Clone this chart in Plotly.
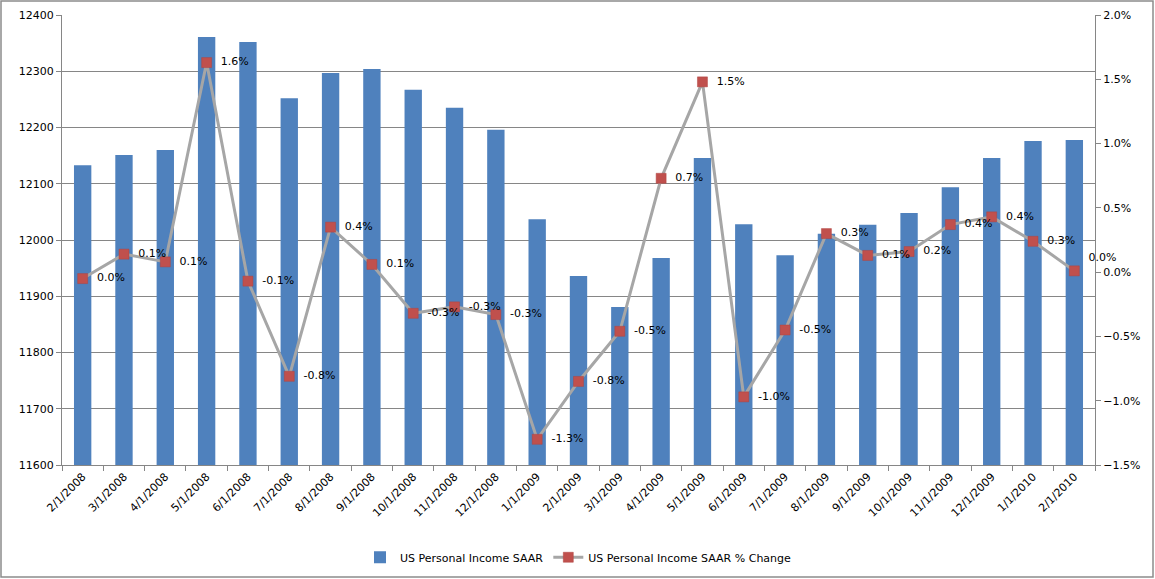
import plotly.graph_objects as go

dates = ["2/1/2008", "3/1/2008", "4/1/2008", "5/1/2008", "6/1/2008", "7/1/2008",
         "8/1/2008", "9/1/2008", "10/1/2008", "11/1/2008", "12/1/2008", "1/1/2009",
         "2/1/2009", "3/1/2009", "4/1/2009", "5/1/2009", "6/1/2009", "7/1/2009",
         "8/1/2009", "9/1/2009", "10/1/2009", "11/1/2009", "12/1/2009", "1/1/2010",
         "2/1/2010"]

income = [12133, 12151, 12160, 12361, 12352, 12252,
          12297, 12304, 12267, 12235, 12196, 12037,
          11936, 11881, 11968, 12146, 12028, 11973,
          12011, 12027, 12048, 12094, 12146, 12176,
          12178]

pct_change = [-0.05, 0.14, 0.08, 1.63, -0.07, -0.81,
              0.35, 0.06, -0.32, -0.27, -0.33, -1.30,
              -0.85, -0.46, 0.73, 1.48, -0.97, -0.45,
              0.30, 0.13, 0.16, 0.37, 0.43, 0.24,
              0.01]

pct_labels = ["0.0%", "0.1%", "0.1%", "1.6%", "-0.1%", "-0.8%",
              "0.4%", "0.1%", "-0.3%", "-0.3%", "-0.3%", "-1.3%",
              "-0.8%", "-0.5%", "0.7%", "1.5%", "-1.0%", "-0.5%",
              "0.3%", "0.1%", "0.2%", "0.4%", "0.4%", "0.3%",
              "0.0%"]

label_pos = ["middle right"] * (len(dates) - 1) + ["top right"]

FONT = "DejaVu Sans"
GRID = "#868686"

fig = go.Figure()
fig.add_trace(go.Bar(
    x=dates, y=income, name="US Personal Income SAAR",
    marker=dict(color="#4F81BD", line=dict(width=0)),
    yaxis="y",
))
fig.add_trace(go.Scatter(
    x=dates, y=pct_change, name="US Personal Income SAAR % Change",
    mode="lines+markers+text",
    line=dict(color="#A6A6A6", width=3),
    marker=dict(symbol="square", size=10, color="#C0504D",
                line=dict(color="#B04540", width=0.5)),
    text=pct_labels, texttemplate="  %{text}", textposition=label_pos,
    textfont=dict(family=FONT, size=11, color="black"),
    yaxis="y2",
    cliponaxis=False,
))

n = len(dates)
fig.update_layout(
    width=1155, height=579,
    margin=dict(l=62, r=60, t=15, b=114, autoexpand=False),
    paper_bgcolor="white", plot_bgcolor="white",
    font=dict(family=FONT, size=11, color="black"),
    bargap=0.58,
    showlegend=True,
    legend=dict(orientation="h", x=0.5, xanchor="center", y=-0.205, yanchor="middle",
                font=dict(family=FONT, size=11),
                traceorder="normal", bgcolor="rgba(0,0,0,0)"),
    xaxis=dict(type="category", range=[-0.5, n - 0.5], autorange=False,
               tickangle=-45, showgrid=False, automargin=False,
               showline=True, linecolor=GRID, linewidth=1,
               ticks="outside", tickson="boundaries", ticklen=5, tickcolor=GRID,
               tickfont=dict(family=FONT, size=11)),
    yaxis=dict(range=[11600, 12400], dtick=100, showgrid=True, gridcolor=GRID, gridwidth=1,
               showline=True, linecolor=GRID, linewidth=1, ticks="outside", ticklen=5,
               tickcolor=GRID, tickformat="d", zeroline=False, automargin=False,
               tickfont=dict(family=FONT, size=11)),
    yaxis2=dict(range=[-1.5, 2.0], dtick=0.5, overlaying="y", side="right",
                showgrid=False, showline=True, linecolor=GRID, linewidth=1,
                ticks="outside", ticklen=5, tickcolor=GRID, zeroline=False,
                tickformat=".1f", ticksuffix="%", automargin=False,
                tickfont=dict(family=FONT, size=11)),
    shapes=[dict(type="rect", xref="paper", yref="paper",
                 x0=-61 / 1033, x1=1091 / 1033, y0=-112 / 450, y1=464 / 450,
                 line=dict(color="#8C8C8C", width=1.5), fillcolor="rgba(0,0,0,0)",
                 layer="below")],
)

fig.write_html("out.html",
               config={"displayModeBar": False},
               post_script="document.body.style.margin='0';document.body.style.overflow='hidden';")
